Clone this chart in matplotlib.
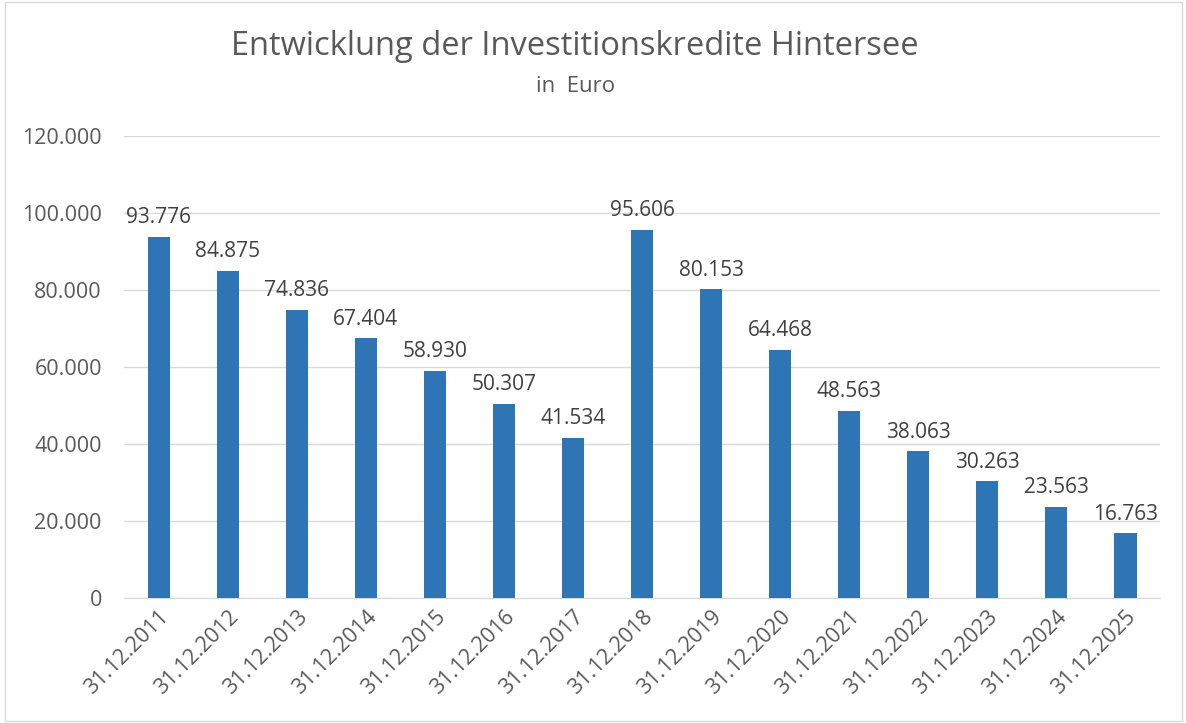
import matplotlib
matplotlib.use("Agg")
import matplotlib.pyplot as plt
from matplotlib.ticker import FuncFormatter
from matplotlib.patches import Rectangle

# chart data
dates = ['31.12.2011', '31.12.2012', '31.12.2013', '31.12.2014', '31.12.2015',
         '31.12.2016', '31.12.2017', '31.12.2018', '31.12.2019', '31.12.2020',
         '31.12.2021', '31.12.2022', '31.12.2023', '31.12.2024', '31.12.2025']
credits = [93776, 84875, 74836, 67404, 58930, 50307, 41534, 95606,
           80153, 64468, 48563, 38063, 30263, 23563, 16763]

plt.rcParams['font.family'] = ['Open Sans', 'DejaVu Sans']

def de_fmt(v):
    return f"{int(round(v)):,}".replace(',', '.')

fig = plt.figure(figsize=(11.86, 7.23), dpi=100)
ax = fig.add_axes([0.1046, 0.1729, 0.8735, 0.639])

x = range(len(dates))
bars = ax.bar(x, credits, width=0.32, color='#2E75B6', zorder=3)

for b, v in zip(bars, credits):
    ax.text(b.get_x() + b.get_width() / 2, v + 2300, de_fmt(v),
            ha='center', va='bottom', fontsize=15, color='#404040')

ax.set_xlim(-0.5, len(dates) - 0.5)
ax.set_ylim(0, 120000)
ax.set_yticks(range(0, 120001, 20000))
ax.yaxis.set_major_formatter(FuncFormatter(lambda v, p: de_fmt(v)))
ax.set_xticks(list(x))
ax.set_xticklabels(dates, rotation=45, ha='right', rotation_mode='anchor')
ax.tick_params(axis='both', length=0, labelsize=15.5, colors='#595959')
ax.tick_params(axis='y', pad=16)
ax.tick_params(axis='x', pad=6)
ax.grid(axis='y', color='#D9D9D9', linewidth=1, zorder=0)
for s in ['top', 'right', 'left']:
    ax.spines[s].set_visible(False)
ax.spines['bottom'].set_color('#D9D9D9')

fig.text(0.485, 0.935, 'Entwicklung der Investitionskredite Hintersee',
         ha='center', va='center', fontsize=23.5, color='#595959')
fig.text(0.485, 0.881, 'in  Euro', ha='center', va='center',
         fontsize=16, color='#595959')

fig.patches.append(Rectangle((0.004, 0.003), 0.993, 0.994, transform=fig.transFigure,
                             fill=False, edgecolor='#D9D9D9', linewidth=1))

fig.savefig('out.png', dpi=100)
